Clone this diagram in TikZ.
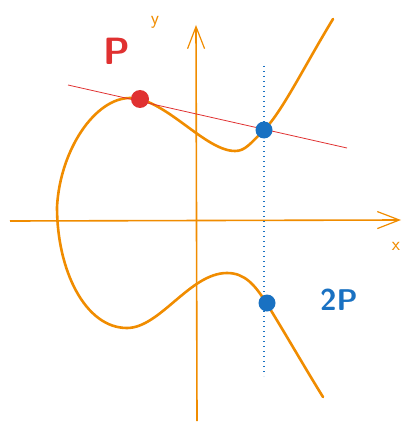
\documentclass[tikz,border=0pt]{standalone}
\usepackage{tikz}
\usetikzlibrary{arrows.meta,positioning,calc}
\definecolor{curveorange}{HTML}{F08C00}
\definecolor{tanred}{HTML}{E03131}
\definecolor{dotblue}{HTML}{1971C2}

\begin{document}
\begin{tikzpicture}[x=1pt,y=-1pt]
        \tikzstyle{every node}=[font=\sffamily]
        \tikzstyle{axis}=[curveorange,line width=1.6pt,-{Straight Barb[length=22pt,width=17pt,line width=1.2pt]}]
        \tikzstyle{curve}=[curveorange,line width=2.6pt,line cap=round]
        \tikzstyle{dot}=[circle,inner sep=0pt,minimum size=18pt]
        \useasboundingbox (0,0) rectangle (412,433);

        %%% Axes
        \coordinate (xstart) at (10,221);
        \coordinate (xend) at (401,220);
        \coordinate (ystart) at (197,421);
        \coordinate (yend) at (196,25);
        \draw[axis] (xstart) -- (xend);
        \draw[axis] (ystart) -- (yend);
        \node[curveorange,font=\sffamily\fontsize{19}{21}\selectfont] (xlabel) at (396,246) {x};
        \node[curveorange,font=\sffamily\fontsize{19}{21}\selectfont] (ylabel) at (155,22) {y};

        %%% Curve
        \coordinate (top) at (333,19);
        \coordinate (low) at (235,151);
        \coordinate (peak) at (130,98);
        \coordinate (left) at (57,207);
        \coordinate (bottom) at (127,328);
        \coordinate (hump) at (227,273);
        \coordinate (tail) at (323,397);
        \draw[curve] (top) .. controls (305,65) and (282,112) .. (264,130)
            .. controls (250,144) and (245,151) .. (low)
            .. controls (205,151) and (165,98) .. (peak)
            .. controls (95,98) and (60,150) .. (left)
            .. controls (57,270) and (85,328) .. (bottom)
            .. controls (160,328) and (190,273) .. (hump)
            .. controls (245,273) and (255,285) .. (267,304)
            .. controls (285,333) and (305,368) .. (tail);

        %%% Tangent and vertical
        \coordinate (tanstart) at (68,85);
        \coordinate (tanend) at (347,148);
        \draw[tanred,line width=0.8pt] (tanstart) -- (tanend);
        \coordinate (vtop) at (264,66);
        \coordinate (vbot) at (264,376);
        \draw[dotblue,line width=1.4pt,dash pattern=on 1.4pt off 3.6pt] (vtop) -- (vbot);

        %%% Points
        \node[dot,fill=tanred] (P) at (140,99) {};
        \node[dot,fill=dotblue,minimum size=17pt] (Q) at (264,130) {};
        \node[dot,fill=dotblue,minimum size=17pt] (R) at (267,303) {};
        \node[tanred,font=\sffamily\bfseries\fontsize{38}{40}\selectfont] (Plabel) at (117,51) {P};
        \node[dotblue,font=\sffamily\bfseries\fontsize{30}{32}\selectfont] (Rlabel) at (339,300) {2P};
\end{tikzpicture}
\end{document}
